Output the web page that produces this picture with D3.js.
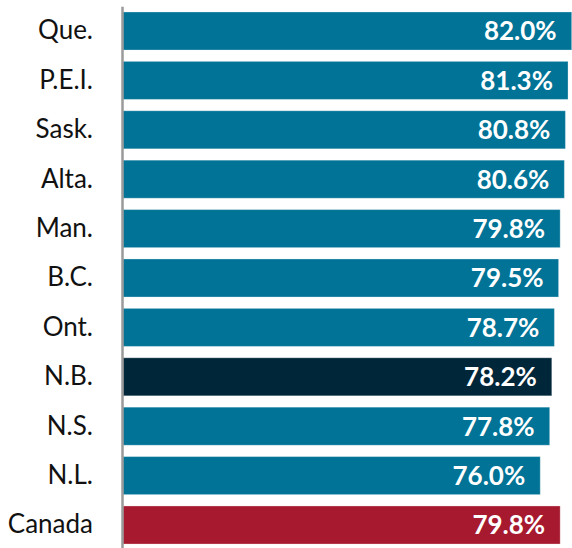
<!DOCTYPE html>
<html>
<head>
<meta charset="utf-8">
<script src="https://cdn.jsdelivr.net/npm/d3@7"></script>
<style>
  html, body { margin: 0; padding: 0; background: #fff; }
  svg { display: block; }
</style>
</head>
<body>
<div id="chart"></div>
<script>
const provinces = ['Que.', 'P.E.I.', 'Sask.', 'Alta.', 'Man.', 'B.C.', 'Ont.', 'N.B.', 'N.S.', 'N.L.', 'Canada'];
const rates = [82.0, 81.3, 80.8, 80.6, 79.8, 79.5, 78.7, 78.2, 77.8, 76.0, 79.8];
const highlight = { 'N.B.': '#00263a', 'Canada': '#a6192e' };
const xDomain = [-3.8, 82];

(function () {
  const width = 572;
  const height = 548;
  const baseColor = '#007396';

  const data = provinces.map(function (p, i) {
    return { name: p, value: rates[i] };
  });

  const x = d3.scaleLinear()
    .domain(xDomain)
    .range([122, 571.7]);

  const y = d3.scaleBand()
    .domain(provinces)
    .range([6.3, 549.7])
    .paddingInner(0.23)
    .paddingOuter(0.115);

  const svg = d3.select('#chart')
    .append('svg')
    .attr('width', width)
    .attr('height', height);

  // bars
  svg.selectAll('rect.bar')
    .data(data)
    .enter()
    .append('rect')
    .attr('class', 'bar')
    .attr('x', x(xDomain[0]) + 1)
    .attr('y', function (d) { return y(d.name); })
    .attr('width', function (d) { return x(d.value) - x(xDomain[0]) - 1; })
    .attr('height', y.bandwidth())
    .attr('fill', function (d) { return highlight[d.name] || baseColor; })
    .attr('stroke', '#ffffff')
    .attr('stroke-opacity', 0.3)
    .attr('stroke-width', 1);

  // value labels
  svg.selectAll('text.value')
    .data(data)
    .enter()
    .append('text')
    .attr('class', 'value')
    .attr('x', function (d) { return x(d.value) - 15; })
    .attr('y', function (d) { return y(d.name) + y.bandwidth() / 2; })
    .attr('dy', '0.36em')
    .attr('text-anchor', 'end')
    .style('font-family', 'Lato, "Noto Sans", sans-serif')
    .style('font-weight', 'bold')
    .style('font-size', '26px')
    .style('fill', '#fff')
    .text(function (d) { return d.value.toFixed(1) + '%'; });

  // category axis
  const yAxis = svg.append('g')
    .attr('class', 'axis')
    .attr('transform', 'translate(' + x(xDomain[0]) + ',0)')
    .call(d3.axisLeft(y).tickSize(0).tickSizeOuter(0).tickPadding(29));

  yAxis.select('.domain')
    .attr('stroke', '#9a9a9a')
    .attr('stroke-width', 2.5);

  yAxis.selectAll('text')
    .style('font-family', 'Lato, "Noto Sans", sans-serif')
    .style('font-size', '26px')
    .style('fill', '#111');
}());
</script>
</body>
</html>
